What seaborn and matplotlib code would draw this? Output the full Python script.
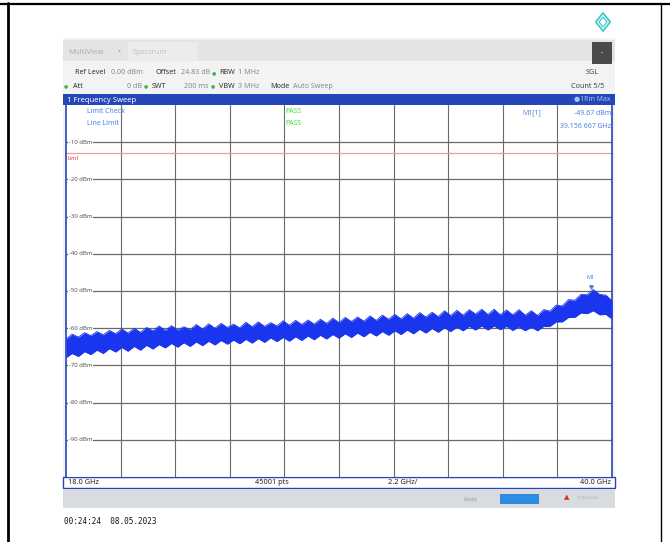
"""Spectrum analyzer screenshot: 18-40 GHz frequency sweep with limit line."""

import matplotlib.pyplot as plt
import numpy as np
import pandas as pd
import seaborn as sns
from matplotlib.patches import Polygon, Rectangle

# Sweep settings
F_START, F_STOP = 18.0, 40.0
REF_LEVEL, DB_BOTTOM = 0, -100
LIMIT_DBM = -13
Y_TICKS = [-10, -20, -30, -40, -50, -60, -70, -80, -90]
X_GRID = [18.0, 20.2, 22.4, 24.6, 26.8, 29.0, 31.2, 33.4, 35.6, 37.8, 40.0]

# Trace envelope (dBm), 4 points per GHz from 18.0 to 40.0
trace_upper = [
	-62.9, -61.6, -62.4, -61.2,  # 18
	-62.0, -60.9, -61.8, -60.6,  # 19
	-61.5, -60.2, -61.3, -60.0,  # 20
	-61.1, -59.8, -60.7, -59.4,  # 21
	-60.6, -59.3, -60.5, -59.6,  # 22
	-60.4, -59.0, -60.2, -58.8,  # 23
	-60.0, -58.7, -59.8, -58.9,  # 24
	-59.9, -58.4, -59.6, -58.3,  # 25
	-59.5, -58.5, -59.4, -58.0,  # 26
	-59.2, -57.9, -59.0, -57.8,  # 27
	-58.9, -57.6, -58.7, -57.3,  # 28
	-58.5, -57.1, -58.2, -57.0,  # 29
	-58.1, -56.7, -57.9, -56.5,  # 30
	-57.6, -56.3, -57.5, -56.1,  # 31
	-57.3, -55.8, -57.0, -55.7,  # 32
	-56.9, -55.3, -56.6, -55.2,  # 33
	-56.5, -55.0, -56.2, -54.9,  # 34
	-56.3, -54.9, -56.4, -55.1,  # 35
	-56.4, -55.0, -56.5, -55.3,  # 36
	-56.6, -55.0, -55.4, -53.8,  # 37
	-54.0, -52.3, -52.5, -50.9,  # 38
	-51.0, -49.6, -50.9, -51.1,  # 39
	-52.6,                       # 40
]
trace_lower = [
	-67.9, -66.8, -67.6, -66.3,  # 18
	-67.1, -65.9, -66.8, -65.5,  # 19
	-66.4, -65.2, -66.2, -64.9,  # 20
	-65.9, -64.6, -65.6, -64.4,  # 21
	-65.3, -64.1, -65.1, -63.9,  # 22
	-64.9, -63.7, -64.7, -63.5,  # 23
	-64.5, -63.3, -64.3, -63.2,  # 24
	-64.2, -63.0, -64.0, -62.8,  # 25
	-63.8, -62.6, -63.6, -62.5,  # 26
	-63.5, -62.3, -63.3, -62.1,  # 27
	-63.1, -61.9, -62.9, -61.7,  # 28
	-62.7, -61.5, -62.5, -61.3,  # 29
	-62.3, -61.1, -62.1, -60.9,  # 30
	-61.9, -60.7, -61.7, -60.5,  # 31
	-61.5, -60.3, -61.3, -60.1,  # 32
	-61.1, -59.9, -60.9, -59.7,  # 33
	-60.7, -59.5, -60.5, -59.4,  # 34
	-60.5, -59.4, -60.4, -59.5,  # 35
	-60.6, -59.6, -60.7, -59.7,  # 36
	-60.7, -59.5, -59.5, -58.3,  # 37
	-58.3, -57.1, -57.1, -55.9,  # 38
	-56.1, -55.3, -56.4, -56.3,  # 39
	-57.5,                       # 40
]
trace_freq = np.linspace(F_START, F_STOP, len(trace_upper))

MARKER_FREQ, MARKER_DBM = 39.156667, -49.67

W, H = 670, 542
TRACE_BLUE = "#1a35ee"
BAR_BLUE = "#2446b8"
TEXT_BLUE = "#4a86e0"
GRID = "#6a6a6a"

sns.set_style("white")
plt.rcParams["font.family"] = ["Noto Sans", "DejaVu Sans"]

fig = plt.figure(figsize=(W / 100, H / 100), dpi=100)

# Background layer in pixel coordinates
bg = fig.add_axes([0, 0, 1, 1])
bg.set_xlim(0, W)
bg.set_ylim(H, 0)
bg.axis("off")


def rect(x0, y0, x1, y1, **kw):
	bg.add_patch(Rectangle((x0, y0), x1 - x0, y1 - y0, **kw))


def txt(x, y, s, size=5.2, color="#333333", **kw):
	bg.text(x, y, s, fontsize=size, color=color, va="center", **kw)


# Page frame
bg.plot([0, W], [3.5, 3.5], color="black", lw=1.6)
bg.plot([8, 8], [3, H], color="black", lw=2.0)
bg.plot([661, 661], [3, H], color="black", lw=1.0)

# Teal logo
for s, lw in [(9, 1.3), (5, 0.9)]:
	bg.add_patch(Polygon([(603, 22 - s), (603 + s * 0.8, 22), (603, 22 + s), (603 - s * 0.8, 22)],
		closed=True, fill=False, edgecolor="#45c8c8", lw=lw))

# Instrument window
rect(63, 38, 615, 508, facecolor="#f3f3f3", edgecolor="none")
rect(63, 40, 615, 61, facecolor="#e4e4e4", edgecolor="none")
rect(128, 42, 198, 61, facecolor="#ececec", edgecolor="none")
txt(68, 52, "MultiView", size=5.5, color="#b0b0b0")
txt(117, 51, "•", size=6, color="#6fc0e0")
txt(133, 52, "Spectrum", size=5.5, color="#c4c4c4")
rect(592, 42, 612, 64, facecolor="#4a4a4a", edgecolor="none")
txt(602, 53, "•", size=4, color="#dddddd", ha="center")

# Settings rows
row1 = [(75, "Ref Level", "#333333", "semibold"), (111, "0.00 dBm", "#8a8a8a", "normal"),
	(155, "Offset", "#333333", "semibold"), (181, "24.83 dB", "#8a8a8a", "normal"),
	(219, "RBW", "#333333", "semibold"), (238, "1 MHz", "#8a8a8a", "normal")]
row2 = [(73, "Att", "#333333", "semibold"), (127, "0 dB", "#8a8a8a", "normal"),
	(152, "SWT", "#333333", "semibold"), (184, "200 ms", "#8a8a8a", "normal"),
	(219, "VBW", "#333333", "semibold"), (238, "3 MHz", "#8a8a8a", "normal"),
	(270, "Mode", "#333333", "semibold"), (293, "Auto Sweep", "#8a8a8a", "normal")]
for x, s, c, w in row1:
	txt(x, 73, s, color=c, fontweight=w)
for x, s, c, w in row2:
	txt(x, 86, s, color=c, fontweight=w)
for x, y in [(214, 73), (66, 86), (146, 86), (213, 86)]:
	txt(x, y, "●", size=3.5, color="#3cb84a", ha="center")
txt(586, 73, "SGL", color="#444444")
txt(571, 86, "Count 5/5", color="#444444")

# Title bar
rect(63, 94, 615, 105, facecolor=BAR_BLUE, edgecolor="none")
txt(67, 100, "1 Frequency Sweep", size=5.5, color="white")
txt(574, 100, "●1Rm Max", size=5, color="#9fc4ee")

# Frequency info row and status bar
rect(63, 477, 615, 488, facecolor="white", edgecolor=BAR_BLUE, lw=1.0)
txt(68, 482, "18.0 GHz", size=5.3, color="#222222")
txt(255, 482, "45001 pts", size=5.3, color="#222222")
txt(388, 482, "2.2 GHz/", size=5.3, color="#222222")
txt(611, 482, "40.0 GHz", size=5.3, color="#222222", ha="right")
rect(63, 489, 615, 508, facecolor="#d9dcde", edgecolor="none")
txt(463, 499, "Ready", size=3.5, color="#9a9a9a")
rect(500, 494, 538, 503, facecolor="#2a90e6", edgecolor="#1a6fc0", lw=0.5)
txt(567, 498, "▲", size=5, color="#d03030", ha="center")
txt(577, 498, "17.05.2023", size=3, color="#aaaaaa")

# Timestamp
bg.text(64, 522, "00:24:24  08.05.2023", fontsize=5.5, family="DejaVu Sans Mono",
	color="#111111", va="center")

# Measurement diagram
ax = fig.add_axes([66 / W, 1 - 477 / H, 546 / W, 372 / H])
ax.set_xlim(F_START, F_STOP)
ax.set_ylim(DB_BOTTOM, REF_LEVEL)
ax.set_facecolor("white")
for x in X_GRID[1:-1]:
	ax.axvline(x, color=GRID, lw=0.8, zorder=1)
for y in Y_TICKS:
	ax.axhline(y, color=GRID, lw=0.9, zorder=1)
	ax.text(F_START + 0.12, y, f"{y} dBm", fontsize=4.3, color="#555555", va="center",
		bbox=dict(facecolor="white", edgecolor="none", pad=0.4), zorder=2)

ax.axhline(LIMIT_DBM, color="#f39a9a", lw=0.9, zorder=2)
ax.text(F_START + 0.05, LIMIT_DBM - 1.3, "Lim1", fontsize=3.8, color="#e03030", va="center")

df = pd.DataFrame({"freq": trace_freq, "upper": trace_upper, "lower": trace_lower})
ax.fill_between(df["freq"], df["lower"], df["upper"], color=TRACE_BLUE, lw=0, zorder=3)
sns.lineplot(data=df, x="freq", y="upper", ax=ax, color=TRACE_BLUE, lw=0.6, zorder=3)
sns.lineplot(data=df, x="freq", y="lower", ax=ax, color=TRACE_BLUE, lw=0.6, zorder=3)

ax.plot([MARKER_FREQ], [MARKER_DBM + 0.8], marker="v", ms=2.5, color=TEXT_BLUE, zorder=4)
ax.text(MARKER_FREQ, MARKER_DBM + 3.2, "M1", fontsize=4, color=TEXT_BLUE, ha="center", va="center")

ax.text(18.85, -1.7, "Limit Check", fontsize=5, color=TEXT_BLUE, va="center")
ax.text(18.85, -4.9, "Line Limit", fontsize=5, color=TEXT_BLUE, va="center")
ax.text(26.85, -1.7, "PASS", fontsize=5, color="#3ee03e", va="center")
ax.text(26.85, -4.9, "PASS", fontsize=5, color="#3ee03e", va="center")
ax.text(36.4, -2.2, "M1[1]", fontsize=5, color=TEXT_BLUE, va="center")
ax.text(39.95, -2.2, f"{MARKER_DBM:.2f} dBm", fontsize=5, color=TEXT_BLUE, va="center", ha="right")
ax.text(39.95, -5.9, "39.156 667 GHz", fontsize=5, color=TEXT_BLUE, va="center", ha="right")

ax.set_xlabel("")
ax.set_ylabel("")
ax.set_xticks([])
ax.set_yticks([])
for side in ["left", "right"]:
	ax.spines[side].set_color(BAR_BLUE)
	ax.spines[side].set_linewidth(1.2)
ax.spines["top"].set_visible(False)
ax.spines["bottom"].set_color(BAR_BLUE)

fig.savefig("out.png", dpi=100)
